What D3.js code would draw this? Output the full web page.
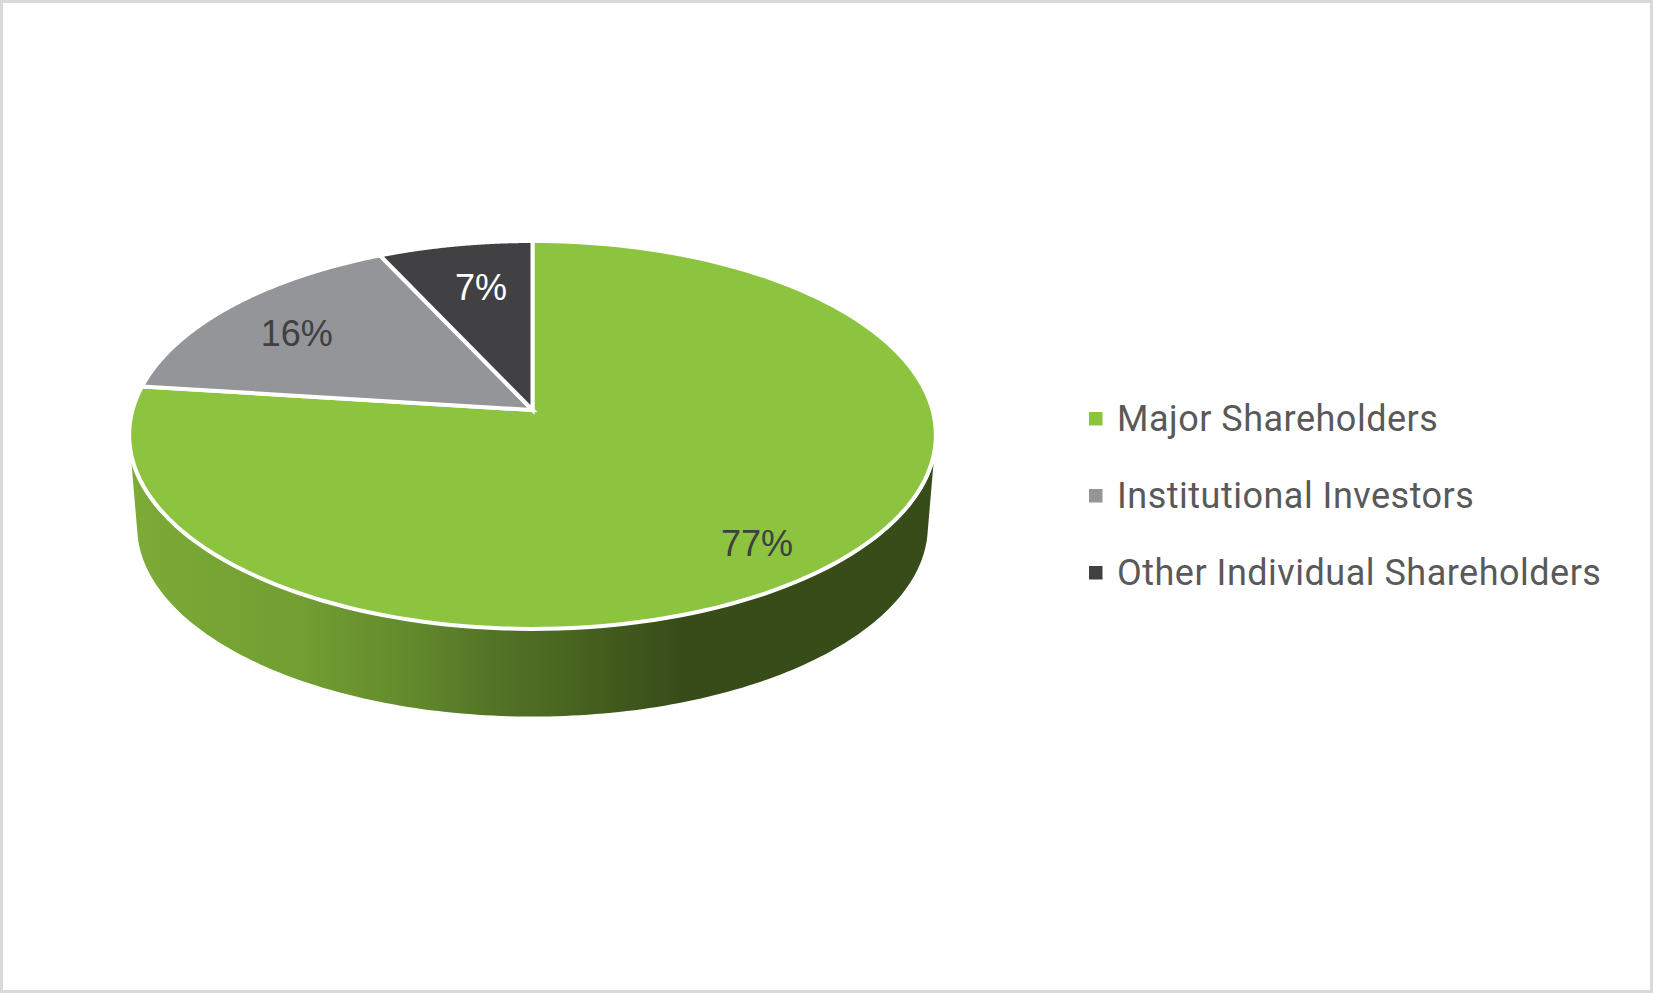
<!DOCTYPE html>
<html><head><meta charset="utf-8">
<script src="https://cdn.jsdelivr.net/npm/d3@7"></script>
<style>html,body{margin:0;padding:0;background:#fff}svg{display:block}</style>
</head><body><svg id="c" width="1653" height="993"></svg>
<script>
const categories = ["Major Shareholders","Institutional Investors","Other Individual Shareholders"];
const values = [77,16,7];
const labels = ["77%","16%","7%"];
const colors = ["#8cc43f","#939598","#414042"];
const labelColors = ["#404040","#404040","#ffffff"];
const labelPos = [[757,556],[296.7,346],[481,300]];
const legendBase = [431,508,585];

const svg = d3.select("#c");
svg.append("rect").attr("x",1.5).attr("y",1.5).attr("width",1650).attr("height",990)
  .attr("fill","#fff").attr("stroke","#d9d9d9").attr("stroke-width",3);

// perspective projection of a flat disc
const C = 0.1287, R = 398, F = 189.8;
function proj(a, cx, cy, k){
  const u = Math.sin(a), v = -Math.cos(a), d = 1 - C*v;
  return [cx + k*R*u/d, cy + k*F*v/d];
}
const TOP = {cx:532.5, cy:410, k:1.005}, TOPW = {cx:532.5, cy:410, k:1.01}, LOW = {cx:532.5, cy:502, k:0.985};
const line = d3.line();
const rim = (a0,a1,g,n=160)=>d3.range(n+1).map(i=>proj(a0+(a1-a0)*i/n,g.cx,g.cy,g.k));

const defs = svg.append("defs");
const grad = defs.append("linearGradient").attr("id","wall").attr("gradientUnits","userSpaceOnUse")
  .attr("x1",131).attr("x2",934).attr("y1",0).attr("y2",0);
[[0,"#7cab36"],[0.21,"#729e32"],[0.335,"#648c2d"],[0.46,"#527226"],[0.534,"#4a6720"],[0.609,"#40591c"],[0.684,"#384c19"],[1,"#384c19"]]
  .forEach(s=>grad.append("stop").attr("offset",s[0]).attr("stop-color",s[1]));

const pie = d3.pie().sort(null).value(d=>d);
const arcs = pie(values);

// side wall, visible only along the front of the green slice
const wa0 = 1.844, wa1 = 2*Math.PI-1.844, la0 = 1.73;
const wallPts = rim(wa0,wa1,TOPW).concat(rim(2*Math.PI-la0,la0,LOW));
svg.append("path").attr("d",line(wallPts)+"Z").attr("fill","url(#wall)");

// top face
svg.selectAll("path.slice").data(arcs).join("path").attr("class","slice")
  .attr("d",d=>line([[TOP.cx,TOP.cy],...rim(d.startAngle,d.endAngle,TOP)])+"Z")
  .attr("fill",(d,i)=>colors[i]).attr("stroke","#fff").attr("stroke-width",4).attr("stroke-linejoin","miter");

// data labels
svg.selectAll("text.lab").data(labels).join("text").attr("class","lab")
  .attr("x",(d,i)=>labelPos[i][0]).attr("y",(d,i)=>labelPos[i][1])
  .attr("text-anchor","middle").attr("font-family","'Liberation Sans'").attr("font-size",36)
  .attr("fill",(d,i)=>labelColors[i]).text(d=>d);

// legend
const lg = svg.selectAll("g.lg").data(categories).join("g").attr("class","lg");
lg.append("rect").attr("x",1089).attr("y",(d,i)=>legendBase[i]-19).attr("width",13.5).attr("height",13.5)
  .attr("fill",(d,i)=>colors[i]);
lg.append("text").attr("x",1117).attr("y",(d,i)=>legendBase[i])
  .attr("font-family","Roboto").attr("font-weight",400).attr("font-size",36).attr("letter-spacing",0.5).attr("fill","#595959").text(d=>d);
</script></body></html>
